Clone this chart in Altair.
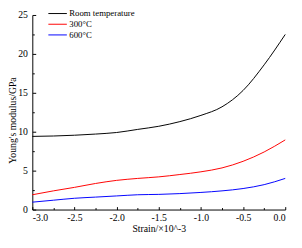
import altair as alt
import pandas as pd

strain = [-3.0, -2.75, -2.5, -2.25, -2.0, -1.75, -1.5, -1.25, -1.0, -0.75, -0.5, -0.25, 0.0]
room = [9.4, 9.45, 9.55, 9.7, 9.9, 10.3, 10.7, 11.3, 12.1, 13.2, 15.3, 18.6, 22.5]
t300 = [1.9, 2.4, 2.85, 3.35, 3.75, 4.0, 4.2, 4.5, 4.85, 5.35, 6.2, 7.4, 8.95]
t600 = [0.95, 1.2, 1.45, 1.6, 1.75, 1.9, 1.95, 2.05, 2.2, 2.4, 2.7, 3.2, 4.0]
series_names = ["Room temperature", "300°C", "600°C"]
series_colors = ["#000000", "#ff0000", "#0000ff"]
x_major = [-3.0, -2.5, -2.0, -1.5, -1.0, -0.5, 0.0]
x_minor = [-2.75, -2.25, -1.75, -1.25, -0.75, -0.25]
y_major = [0, 5, 10, 15, 20, 25]
y_minor = [2.5, 7.5, 12.5, 17.5, 22.5]

rows = []
for name, vals in zip(series_names, [room, t300, t600]):
    for s, v in zip(strain, vals):
        rows.append({"strain": s, "value": v, "series": name})
df = pd.DataFrame(rows)

FONT = "Liberation Serif"
W, H = 260, 200
xscale = alt.Scale(domain=[-3, 0], nice=False, zero=False)
yscale = alt.Scale(domain=[0, 25], nice=False)

main = alt.Chart(df).mark_line(strokeWidth=1, interpolate="monotone").encode(
    x=alt.X("strain:Q", scale=xscale, axis=alt.Axis(
        values=x_major, format=".1f", labelExpr="replace(datum.label, '\u2212', '-')",
        ticks=False, tickSize=0, grid=False, domainColor="black", domainWidth=1,
        labelFont=FONT, labelFontSize=10, labelColor="black", labelPadding=3,
        title="Strain/×10^-3", titleFont=FONT, titleFontSize=10, titleFontWeight="normal",
        titleColor="black", titleBaseline="alphabetic", titleY=23)),
    y=alt.Y("value:Q", scale=yscale, axis=alt.Axis(
        values=y_major, ticks=False, tickSize=0, grid=False, domainColor="black", domainWidth=1,
        labelFont=FONT, labelFontSize=10, labelColor="black", labelPadding=5,
        title="Young's modulus/GPa", titleFont=FONT, titleFontSize=10, titleFontWeight="normal",
        titleColor="black", titleBaseline="alphabetic", titleX=-17, titleY=108, titleAngle=270)),
    color=alt.Color("series:N", scale=alt.Scale(domain=series_names, range=series_colors),
                    legend=alt.Legend(title=None, orient="none", legendX=16, legendY=-7,
                                      symbolType="stroke", symbolSize=361, symbolStrokeWidth=1,
                                      labelFont=FONT, labelFontSize=9, labelColor="black",
                                      labelOffset=2, rowPadding=0, clipHeight=11, padding=0)),
)

def tick_layer(xaxis, yaxis):
    return alt.Chart(df).mark_line(opacity=0).encode(
        x=alt.X("strain:Q", scale=xscale, axis=xaxis),
        y=alt.Y("value:Q", scale=yscale, axis=yaxis),
        detail="series:N",
    )

def xt(vals, size):
    return alt.Axis(orient="top", offset=-H, values=vals, labels=False, domain=False, grid=False,
                    ticks=True, tickSize=size, tickColor="black", tickWidth=1, title=None)

def yt(vals, size):
    return alt.Axis(orient="right", offset=-W, values=vals, labels=False, domain=False, grid=False,
                    ticks=True, tickSize=size, tickColor="black", tickWidth=1, title=None)

chart = alt.layer(
    main,
    tick_layer(xt(x_major, 3), yt(y_major, 3.5)),
    tick_layer(xt(x_minor, 2), yt(y_minor, 2)),
).resolve_axis(x="independent", y="independent").properties(
    width=W, height=H,
    autosize=alt.AutoSizeParams(type="none"),
    padding={"left": 25, "top": 4, "right": 9, "bottom": 24},
).configure_view(stroke=None)

chart.save("out.html", embed_options={"renderer": "svg", "actions": False})
